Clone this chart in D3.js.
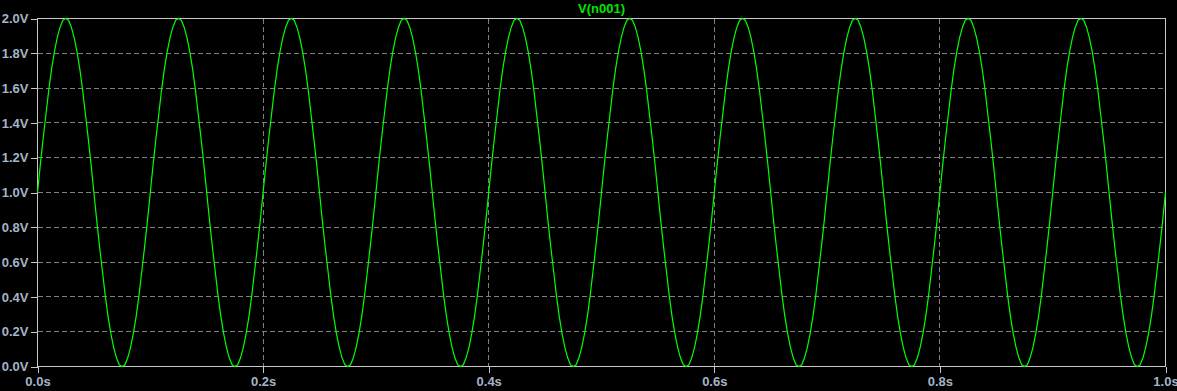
<!DOCTYPE html>
<html>
<head>
<meta charset="utf-8">
<script src="https://d3js.org/d3.v7.min.js"></script>
<style>
  html, body { margin: 0; padding: 0; background: #000; }
  svg { display: block; }
  .tick text { font-family: "Liberation Sans", Arial, sans-serif; font-weight: bold; font-size: 13px; fill: #a5b4c8; }
</style>
</head>
<body>
<svg width="1177" height="391"></svg>
<script>
// trace name and axis ticks
var traceName = "V(n001)";
var voltTicks = [0.0, 0.2, 0.4, 0.6, 0.8, 1.0, 1.2, 1.4, 1.6, 1.8, 2.0];
var timeTicks = [0.0, 0.2, 0.4, 0.6, 0.8, 1.0];
var timeStep = 0.0025; // seconds between samples

// samples of V(n001), one line per cycle
var volts = [
  1.00,1.16,1.31,1.45,1.59,1.71,1.81,1.89,1.95,1.99,2.00,1.99,1.95,1.89,1.81,1.71,1.59,1.45,1.31,1.16,1.00,0.84,0.69,0.55,0.41,0.29,0.19,0.11,0.05,0.01,0.00,0.01,0.05,0.11,0.19,0.29,0.41,0.55,0.69,0.84,
  1.00,1.16,1.31,1.45,1.59,1.71,1.81,1.89,1.95,1.99,2.00,1.99,1.95,1.89,1.81,1.71,1.59,1.45,1.31,1.16,1.00,0.84,0.69,0.55,0.41,0.29,0.19,0.11,0.05,0.01,0.00,0.01,0.05,0.11,0.19,0.29,0.41,0.55,0.69,0.84,
  1.00,1.16,1.31,1.45,1.59,1.71,1.81,1.89,1.95,1.99,2.00,1.99,1.95,1.89,1.81,1.71,1.59,1.45,1.31,1.16,1.00,0.84,0.69,0.55,0.41,0.29,0.19,0.11,0.05,0.01,0.00,0.01,0.05,0.11,0.19,0.29,0.41,0.55,0.69,0.84,
  1.00,1.16,1.31,1.45,1.59,1.71,1.81,1.89,1.95,1.99,2.00,1.99,1.95,1.89,1.81,1.71,1.59,1.45,1.31,1.16,1.00,0.84,0.69,0.55,0.41,0.29,0.19,0.11,0.05,0.01,0.00,0.01,0.05,0.11,0.19,0.29,0.41,0.55,0.69,0.84,
  1.00,1.16,1.31,1.45,1.59,1.71,1.81,1.89,1.95,1.99,2.00,1.99,1.95,1.89,1.81,1.71,1.59,1.45,1.31,1.16,1.00,0.84,0.69,0.55,0.41,0.29,0.19,0.11,0.05,0.01,0.00,0.01,0.05,0.11,0.19,0.29,0.41,0.55,0.69,0.84,
  1.00,1.16,1.31,1.45,1.59,1.71,1.81,1.89,1.95,1.99,2.00,1.99,1.95,1.89,1.81,1.71,1.59,1.45,1.31,1.16,1.00,0.84,0.69,0.55,0.41,0.29,0.19,0.11,0.05,0.01,0.00,0.01,0.05,0.11,0.19,0.29,0.41,0.55,0.69,0.84,
  1.00,1.16,1.31,1.45,1.59,1.71,1.81,1.89,1.95,1.99,2.00,1.99,1.95,1.89,1.81,1.71,1.59,1.45,1.31,1.16,1.00,0.84,0.69,0.55,0.41,0.29,0.19,0.11,0.05,0.01,0.00,0.01,0.05,0.11,0.19,0.29,0.41,0.55,0.69,0.84,
  1.00,1.16,1.31,1.45,1.59,1.71,1.81,1.89,1.95,1.99,2.00,1.99,1.95,1.89,1.81,1.71,1.59,1.45,1.31,1.16,1.00,0.84,0.69,0.55,0.41,0.29,0.19,0.11,0.05,0.01,0.00,0.01,0.05,0.11,0.19,0.29,0.41,0.55,0.69,0.84,
  1.00,1.16,1.31,1.45,1.59,1.71,1.81,1.89,1.95,1.99,2.00,1.99,1.95,1.89,1.81,1.71,1.59,1.45,1.31,1.16,1.00,0.84,0.69,0.55,0.41,0.29,0.19,0.11,0.05,0.01,0.00,0.01,0.05,0.11,0.19,0.29,0.41,0.55,0.69,0.84,
  1.00,1.16,1.31,1.45,1.59,1.71,1.81,1.89,1.95,1.99,2.00,1.99,1.95,1.89,1.81,1.71,1.59,1.45,1.31,1.16,1.00,0.84,0.69,0.55,0.41,0.29,0.19,0.11,0.05,0.01,0.00,0.01,0.05,0.11,0.19,0.29,0.41,0.55,0.69,0.84,
  1.00
];

var svg = d3.select("svg");
var plotL = 37.5, plotR = 1165.5, plotT = 18.5, plotB = 366.5;

var x = d3.scaleLinear().domain([0, 1]).range([plotL, plotR]);
var y = d3.scaleLinear().domain([0, 2]).range([plotB, plotT]);

svg.append("rect").attr("width", 1177).attr("height", 391).attr("fill", "#000");

// dashed grid
svg.append("g").selectAll("line")
  .data(voltTicks.filter(function(d) { return d > 0 && d < 2; }))
  .enter().append("line")
    .attr("x1", plotL).attr("x2", plotR)
    .attr("y1", function(d) { return Math.round(y(d) - 0.5) + 0.5; })
    .attr("y2", function(d) { return Math.round(y(d) - 0.5) + 0.5; })
    .attr("stroke", "#808080").attr("stroke-dasharray", "5,3")
    .attr("shape-rendering", "crispEdges");

svg.append("g").selectAll("line")
  .data(timeTicks.filter(function(d) { return d > 0 && d < 1; }))
  .enter().append("line")
    .attr("y1", plotT).attr("y2", plotB)
    .attr("x1", function(d) { return Math.round(x(d) - 0.5) + 0.5; })
    .attr("x2", function(d) { return Math.round(x(d) - 0.5) + 0.5; })
    .attr("stroke", "#808080").attr("stroke-dasharray", "5,3")
    .attr("shape-rendering", "crispEdges");

// axes
var yAxis = svg.append("g")
  .attr("transform", "translate(" + plotL + ",0)")
  .call(d3.axisLeft(y).tickValues(voltTicks).tickSize(7).tickPadding(2)
    .tickFormat(function(d) { return d3.format(".1f")(d) + "V"; }));
var xAxis = svg.append("g")
  .attr("transform", "translate(0," + plotB + ")")
  .call(d3.axisBottom(x).tickValues(timeTicks).tickSize(6).tickPadding(4)
    .tickFormat(function(d) { return d3.format(".1f")(d) + "s"; }));
[yAxis, xAxis].forEach(function(a) {
  a.select(".domain").remove();
  a.selectAll(".tick line").attr("stroke", "#c8c8c8").attr("shape-rendering", "crispEdges");
  a.attr("font-family", null).attr("font-size", null);
});

// frame
svg.append("rect")
  .attr("x", plotL).attr("y", plotT)
  .attr("width", plotR - plotL).attr("height", plotB - plotT)
  .attr("fill", "none").attr("stroke", "#c8c8c8")
  .attr("shape-rendering", "crispEdges");

// trace
var line = d3.line()
  .x(function(d, i) { return x(i * timeStep); })
  .y(function(d) { return y(d); });

svg.append("path")
  .datum(volts)
  .attr("d", line)
  .attr("fill", "none")
  .attr("stroke", "#00ff00")
  .attr("stroke-width", 1.2);

svg.append("text")
  .attr("x", (plotL + plotR) / 2)
  .attr("y", 13)
  .attr("text-anchor", "middle")
  .attr("font-family", "Liberation Sans, Arial, sans-serif")
  .attr("font-weight", "bold")
  .attr("font-size", 13)
  .attr("fill", "#00e600")
  .text(traceName);
</script>
</body>
</html>
